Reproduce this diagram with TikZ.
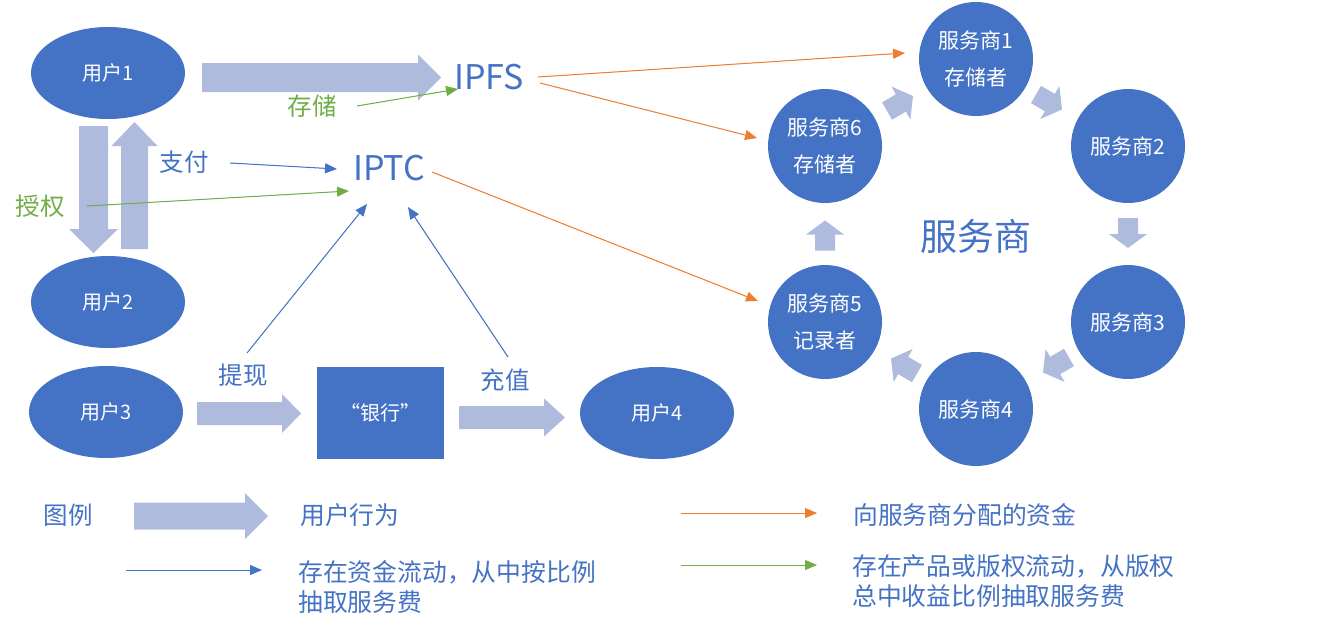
\documentclass[tikz,border=0pt]{standalone}
\usepackage{fontspec}
\setmainfont{Noto Sans CJK SC}
\usetikzlibrary{shapes.geometric,arrows.meta}
\definecolor{nodeblue}{RGB}{68,114,196}
\definecolor{blockfill}{RGB}{175,187,221}
\definecolor{lgreen}{RGB}{112,173,71}
\definecolor{lorange}{RGB}{237,125,49}
\newcommand\fs[2]{\fontsize{#1}{#2}\selectfont}
% block arrow: centre x, centre y, angle, length, shaft width, head width, head length
\newcommand\barrow[7]{\begin{scope}[shift={(#1,#2)},rotate=#3]
\fill[blockfill] (-#4/2,-#5/2) -- (#4/2-#7,-#5/2) -- (#4/2-#7,-#6/2) -- (#4/2,0) -- (#4/2-#7,#6/2) -- (#4/2-#7,#5/2) -- (-#4/2,#5/2) -- cycle;
\end{scope}}
\tikzset{
  user/.style={ellipse, fill=nodeblue, minimum width=154pt, minimum height=92pt, inner sep=0pt, text=white, font=\fs{20}{24}},
  svc/.style={circle, fill=nodeblue, minimum size=114pt, inner sep=0pt, text=white, align=center, font=\fs{21}{37}},
  bankbox/.style={rectangle, fill=nodeblue, minimum width=127pt, minimum height=92pt, inner sep=0pt, text=white, font=\fs{20}{24}},
  lbl/.style={text=nodeblue, font=\fs{24.5}{30}, inner sep=0pt},
  glbl/.style={text=lgreen, font=\fs{24.5}{30}, inner sep=0pt},
  bigtxt/.style={text=nodeblue, font=\fs{34}{40}, inner sep=0pt},
  legtxt/.style={text=nodeblue, font=\fs{24.8}{30}, inner sep=0pt, align=left, anchor=west},
  thin/.style={line width=1pt, -{Triangle[length=12pt,width=10pt]}},
  bflow/.style={thin, draw=nodeblue, fill=nodeblue},
  gflow/.style={thin, draw=lgreen, fill=lgreen},
  oflow/.style={thin, draw=lorange, fill=lorange},
}
\begin{document}
\begin{tikzpicture}[x=1pt,y=-1pt]
\useasboundingbox (0,0) rectangle (1327,632);
% block arrows (user actions)
\barrow{321.5}{77.5}{0}{239}{29}{46}{23}
\barrow{93.5}{189.5}{-90}{127}{29}{49}{24}
\barrow{134.5}{185.5}{90}{127}{27}{46}{24}
\barrow{249}{413.5}{0}{104}{23}{39}{19}
\barrow{512}{417.5}{0}{106}{23}{38}{21}
\barrow{201}{516}{0}{134}{27}{46}{23}
% ring arrows
\barrow{900}{103.5}{30}{30}{20}{38}{14}
\barrow{1049}{102}{-30}{30}{20}{38}{14}
\barrow{1128}{233}{-90}{30}{20}{38}{14}
\barrow{1056}{365}{-150}{30}{20}{38}{14}
\barrow{904}{366}{150}{30}{20}{38}{14}
\barrow{825}{235.5}{90}{30}{20}{38}{14}
% users
\node[user] (u1) at (108,73) {用户1};
\node[user] (u2) at (108,302) {用户2};
\node[user] (u3) at (106,412) {用户3};
\node[user] (u4) at (657,413) {用户4};
\node[bankbox] (bank) at (380.5,413) {“银行”};
% systems
\node[bigtxt] (ipfs) at (489,77) {IPFS};
\node[bigtxt] (iptc) at (389,168) {IPTC};
% service providers
\node[svc] (s1) at (976,59) {服务商1\\存储者};
\node[svc] (s2) at (1128,146) {服务商2};
\node[svc] (s3) at (1128,322) {服务商3};
\node[svc] (s4) at (976,409) {服务商4};
\node[svc] (s5) at (825,322) {服务商5\\记录者};
\node[svc] (s6) at (825,146) {服务商6\\存储者};
\node[text=nodeblue, font=\fs{37}{44}, inner sep=0pt] (ring) at (976,236) {服务商};
% labels
\node[glbl] (lcunchu) at (312,106) {存储};
\node[lbl] (lzhifu) at (184,162) {支付};
\node[glbl] (lshouquan) at (40,206) {授权};
\node[lbl] (ltixian) at (243,375) {提现};
\node[lbl] (lchongzhi) at (505,380) {充值};
% connector ends
\coordinate (csA) at (357,106); \coordinate (csB) at (458,89);
\coordinate (zfA) at (230,163); \coordinate (zfB) at (337,169);
\coordinate (sqA) at (87,206);  \coordinate (sqB) at (349,191);
\coordinate (txA) at (247,353); \coordinate (txB) at (367,204);
\coordinate (czA) at (508,357); \coordinate (czB) at (408,207);
\coordinate (pfA) at (538,77);  \coordinate (pfB) at (905,53);
\coordinate (pfC) at (540,83);  \coordinate (pfD) at (757,138);
\coordinate (ptA) at (432,172); \coordinate (ptB) at (758,301);
\draw[gflow] (csA) -- (csB);
\draw[bflow] (zfA) -- (zfB);
\draw[gflow] (sqA) -- (sqB);
\draw[bflow] (txA) -- (txB);
\draw[bflow] (czA) -- (czB);
\draw[oflow] (pfA) -- (pfB);
\draw[oflow] (pfC) -- (pfD);
\draw[oflow] (ptA) -- (ptB);
% legend
\node[lbl] (legend) at (68,515) {图例};
\node[legtxt] (lg1) at (300,515) {用户行为};
\node[legtxt] (lg2) at (298,587) {存在资金流动，从中按比例\\抽取服务费};
\node[legtxt] (lg3) at (853,515) {向服务商分配的资金};
\node[legtxt] (lg4) at (852,581) {存在产品或版权流动，从版权\\总中收益比例抽取服务费};
\coordinate (lbA) at (126,570); \coordinate (lbB) at (262,570);
\coordinate (loA) at (681,513); \coordinate (loB) at (817,513);
\coordinate (lgA) at (681,565); \coordinate (lgB) at (817,565);
\draw[bflow] (lbA) -- (lbB);
\draw[oflow] (loA) -- (loB);
\draw[gflow] (lgA) -- (lgB);
\end{tikzpicture}
\end{document}
